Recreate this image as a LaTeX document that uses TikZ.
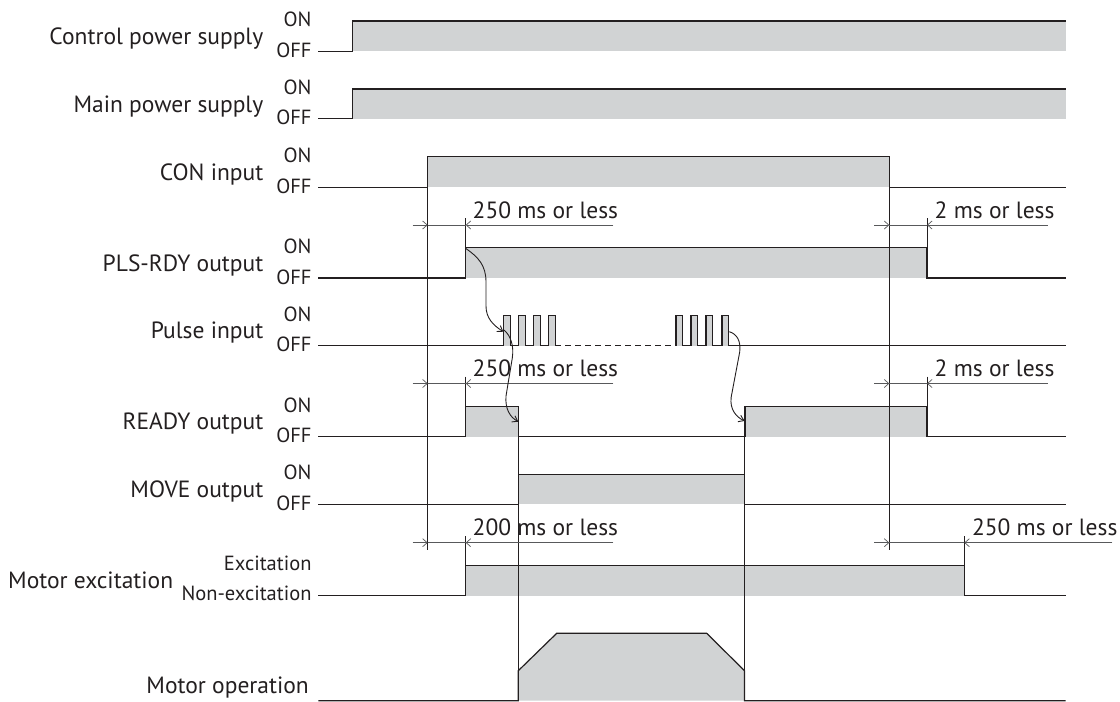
\documentclass[tikz,border=0pt]{standalone}
\usepackage{fontspec}
\setmainfont{PT Sans}
\usetikzlibrary{arrows.meta}
\definecolor{ink}{HTML}{231F20}
\definecolor{shade}{HTML}{D1D3D4}
\definecolor{dimc}{HTML}{58595B}
\begin{document}
\begin{tikzpicture}[x=1pt,y=-1pt,
  sig/.style={line width=1.2pt, draw=ink, line join=miter},
  guide/.style={line width=0.8pt, draw=ink},
  dimline/.style={line width=0.7pt, draw=dimc},
  dimarrow/.style={dimline, -{Straight Barb[length=4.5pt,width=8pt]}},
  curvearrow/.style={line width=0.9pt, draw=ink, -{Straight Barb[length=5pt,width=7pt]}},
  fillon/.style={fill=shade, draw=none},
  lab/.style={font=\fontsize{23.5}{24}\selectfont, text=ink, inner sep=0pt, anchor=base east},
  st/.style={font=\fontsize{20.5}{21}\selectfont, text=ink, inner sep=0pt, anchor=base east},
  dimtxt/.style={font=\fontsize{23.5}{24}\selectfont, text=ink, inner sep=0pt, anchor=base west}]
\useasboundingbox (0,0) rectangle (1120,702);

% ---------- shaded ON areas ----------
\fill[fillon] (352.3,21) rectangle (1065.5,51.3);
\fill[fillon] (352.3,89) rectangle (1065.5,118.7);
\fill[fillon] (427.7,156.7) rectangle (889.3,187.3);
\fill[fillon] (465.7,247.7) rectangle (927,278);
\foreach \p in {503.3,518.3,533.3,548.3,676,691,706,722}
  \fill[fillon] (\p,315.7) rectangle ({\p+6.8},345.7);
\fill[fillon] (465.7,406.7) rectangle (518.3,436.7);
\fill[fillon] (745,406.7) rectangle (927,436.7);
\fill[fillon] (518.3,474.3) rectangle (744.5,504.3);
\fill[fillon] (465.7,565.7) rectangle (964.3,595.7);
\fill[fillon] (518.3,700.7) -- (518.3,670.7) -- (556.7,633.3) -- (706.7,633.3) -- (744.5,670.7) -- (744.5,700.7) -- cycle;

% ---------- guide lines ----------
\draw[guide] (427.7,156.7) -- (427.7,550);
\draw[guide] (889.3,156.7) -- (889.3,550);
\draw[guide] (465.7,218.3) -- (465.7,248);
\draw[guide] (927,218.3) -- (927,248);
\draw[guide] (465.7,376.7) -- (465.7,407);
\draw[guide] (927,376.7) -- (927,407);
\draw[guide] (465.7,536) -- (465.7,566);
\draw[guide] (964.3,536) -- (964.3,566);
\draw[guide] (518.3,406.7) -- (518.3,700.7);
\draw[guide] (744.5,406.7) -- (744.5,700.7);

% ---------- signal lines ----------
\draw[sig] (318.3,51.3) -- (352.3,51.3) -- (352.3,21) -- (1065.5,21);
\draw[sig] (318.3,118.7) -- (352.3,118.7) -- (352.3,89) -- (1065.5,89);
\draw[sig] (318.3,187.3) -- (427.7,187.3) -- (427.7,156.7) -- (889.3,156.7) -- (889.3,187.3) -- (1065.5,187.3);
\draw[sig] (318.3,278) -- (465.7,278) -- (465.7,247.7) -- (927,247.7) -- (927,278) -- (1065.5,278);
\draw[sig] (318.3,345.7)
  \foreach \p in {503.3,518.3,533.3,548.3} { -- (\p,345.7) -- (\p,315.7) -- ({\p+6.8},315.7) -- ({\p+6.8},345.7) } -- (555.1,345.7);
\draw[sig, dash pattern=on 6pt off 4pt] (555.1,345.7) -- (676,345.7);
\draw[sig] (676,345.7)
  \foreach \p in {676,691,706,722} { -- (\p,345.7) -- (\p,315.7) -- ({\p+6.8},315.7) -- ({\p+6.8},345.7) } -- (1065.5,345.7);
\draw[sig] (318.3,436.7) -- (465.7,436.7) -- (465.7,406.7) -- (518.3,406.7) -- (518.3,436.7) -- (745,436.7) -- (745,406.7) -- (927,406.7) -- (927,436.7) -- (1065.5,436.7);
\draw[sig] (318.3,504.3) -- (518.3,504.3) -- (518.3,474.3) -- (744.5,474.3) -- (744.5,504.3) -- (1065.5,504.3);
\draw[sig] (318.3,595.7) -- (465.7,595.7) -- (465.7,565.7) -- (964.3,565.7) -- (964.3,595.7) -- (1065.5,595.7);
\draw[sig] (318.3,700.7) -- (518.3,700.7) -- (518.3,670.7) -- (556.7,633.3) -- (706.7,633.3) -- (744.5,670.7) -- (744.5,700.7) -- (1065.5,700.7);

% ---------- dimension lines ----------
\foreach \y in {225,383.5,542.7} {
  \draw[dimarrow] (412.7,\y) -- (427.7,\y);
  \draw[dimline] (427.7,\y) -- (465.7,\y);
  \draw[dimarrow] (613.3,\y) -- (465.7,\y);
  \draw[dimarrow] (874.3,\y) -- (889.3,\y);
}
\draw[dimline] (889.3,225) -- (927,225);
\draw[dimarrow] (1047.7,225) -- (927,225);
\draw[dimline] (889.3,383.5) -- (927,383.5);
\draw[dimarrow] (1047.7,383.5) -- (927,383.5);
\draw[dimline] (889.3,542.7) -- (964.3,542.7);
\draw[dimarrow] (1112.3,542.7) -- (964.3,542.7);

\node[dimtxt] (d1) at (472.5,218.3) {250 ms or less};
\node[dimtxt] (d2) at (934.5,218.3) {2 ms or less};
\node[dimtxt] (d3) at (472.5,376.9) {250 ms or less};
\node[dimtxt] (d4) at (934.5,376.9) {2 ms or less};
\node[dimtxt] (d5) at (472.5,535.5) {200 ms or less};
\node[dimtxt] (d6) at (971.8,535.5) {250 ms or less};

% ---------- causal curves ----------
\coordinate (c1s) at (465.9,248.5);
\coordinate (c1e) at (503.3,331.7);
\coordinate (c2s) at (504,330);
\coordinate (c2e) at (518.3,421.7);
\coordinate (c3s) at (729.3,331.7);
\coordinate (c3e) at (744.6,420.9);
\draw[curvearrow] (c1s) .. controls (478,257) and (486,265) .. (486,282) -- (486,306) .. controls (486,318) and (493,325) .. (c1e);
\draw[curvearrow] (c2s) .. controls (511,336) and (514,346) .. (512.3,358) -- (506,396) .. controls (505,409) and (510,417) .. (c2e);
\draw[curvearrow] (c3s) .. controls (737,334) and (741,341) .. (739.7,352) -- (731.2,397) .. controls (729.5,409) and (736,417) .. (c3e);

% ---------- labels ----------
\node[lab] (l1) at (263.5,44.3) {Control power supply};
\node[lab] (l2) at (263.5,112) {Main power supply};
\node[lab] (l3) at (263.5,180.3) {CON input};
\node[lab] (l4) at (263.5,271) {PLS-RDY output};
\node[lab] (l5) at (263.5,338.7) {Pulse input};
\node[lab] (l6) at (263.5,429.7) {READY output};
\node[lab] (l7) at (263.5,497.3) {MOVE output};
\node[lab] (l8) at (173.3,588.3) {Motor excitation};
\node[lab] (l9) at (309,693.3) {Motor operation};

\node[st] (on1) at (311.7,26.2) {ON};   \node[st] (off1) at (311.7,57.4) {OFF};
\node[st] (on2) at (311.7,94.3) {ON};   \node[st] (off2) at (311.7,124.9) {OFF};
\node[st] (on3) at (311.7,162) {ON};    \node[st] (off3) at (311.7,193.4) {OFF};
\node[st] (on4) at (311.7,253) {ON};    \node[st] (off4) at (311.7,284.1) {OFF};
\node[st] (on5) at (311.7,321) {ON};    \node[st] (off5) at (311.7,351.8) {OFF};
\node[st] (on6) at (311.7,412) {ON};    \node[st] (off6) at (311.7,442.8) {OFF};
\node[st] (on7) at (311.7,479.6) {ON};  \node[st] (off7) at (311.7,510.4) {OFF};
\node[st] (ex) at (311.7,570.7) {Excitation};
\node[st] (nex) at (311.7,600.9) {Non-excitation};
\end{tikzpicture}
\end{document}
